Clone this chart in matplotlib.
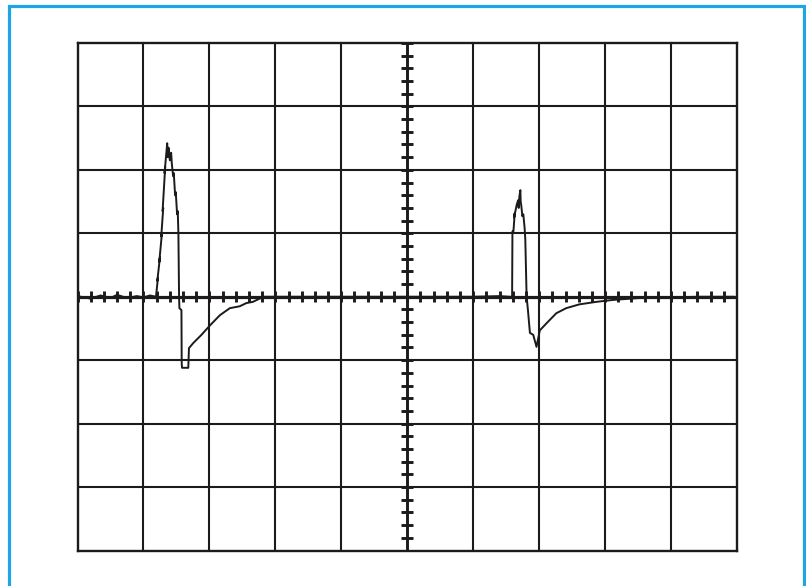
import numpy as np
import matplotlib
matplotlib.use('Agg')
import matplotlib.pyplot as plt
from matplotlib.patches import Rectangle

# screen divisions
n_cols = 10
n_rows = 8

# trace, in divisions (x: 0..10, y: -4..4)
trace_x = [0.05, 0.2, 0.35, 0.5, 0.6, 0.75, 0.9, 1.0, 1.1, 1.19,
           1.22, 1.21, 1.25, 1.24, 1.28, 1.27, 1.30, 1.29, 1.31, 1.33,
           1.32, 1.35, 1.36, 1.37, 1.38, 1.40, 1.42, 1.43, 1.45, 1.46,
           1.48, 1.49, 1.51, 1.52, 1.53, 1.54, 1.545, 1.576, 1.58, 1.585,
           1.68, 1.69, 1.755, 1.88, 2.01, 2.16, 2.31, 2.46, 2.56, 2.66,
           2.82, 3.2, 4.0, 5.0, 6.0, 6.4, 6.55, 6.59, 6.595, 6.61,
           6.63, 6.62, 6.66, 6.68, 6.69, 6.70, 6.715, 6.72, 6.73, 6.745,
           6.76, 6.78, 6.79, 6.81, 6.83, 6.86, 6.91, 6.96, 7.01, 7.11,
           7.26, 7.41, 7.61, 7.87, 8.12, 8.52, 9.43, 9.95]
trace_y = [0.0, -0.03, 0.02, -0.02, 0.03, -0.02, 0.01, -0.01, 0.02, 0.0,
           0.30, 0.25, 0.62, 0.55, 1.00, 0.95, 1.40, 1.35, 1.70, 2.05,
           1.95, 2.30, 2.42, 2.20, 2.35, 2.15, 2.27, 2.10, 1.90, 1.95,
           1.60, 1.65, 1.30, 1.35, 1.00, 0.0, -0.18, -0.21, -1.05, -1.12,
           -1.12, -0.81, -0.73, -0.60, -0.45, -0.29, -0.18, -0.15, -0.10, -0.08,
           0.0, 0.0, 0.0, 0.0, 0.0, 0.01, 0.0, 0.0, 1.03, 1.03,
           1.32, 1.25, 1.45, 1.52, 1.40, 1.58, 1.68, 1.50, 1.43, 1.27,
           1.30, 1.08, 0.90, 0.0, -0.21, -0.57, -0.60, -0.79, -0.53, -0.42,
           -0.26, -0.18, -0.12, -0.08, -0.05, -0.02, 0.0, 0.0]

ink = '#1c1a1b'

fig = plt.figure(figsize=(8.06, 5.86), dpi=100)
fig.patch.set_facecolor('white')

# blue frame round the picture
fig.patches.append(Rectangle((9 / 806, -0.05), 795 / 806, 1 - 6.5 / 586 + 0.05,
                             transform=fig.transFigure, fill=False,
                             edgecolor='#1ea5e3', linewidth=2.3))

ax = fig.add_axes([77.5 / 806, 1 - 550.5 / 586, 659.5 / 806, 507.5 / 586])
ax.set_xlim(0, n_cols)
ax.set_ylim(-n_rows / 2, n_rows / 2)
ax.set_xticks([])
ax.set_yticks([])
for s in ax.spines.values():
    s.set_color(ink)
    s.set_linewidth(1.7)

# graticule
for i in range(1, n_cols):
    ax.axvline(i, color=ink, lw=1.5 if i != n_cols // 2 else 2.1)
for j in range(1, n_rows):
    y = j - n_rows / 2
    ax.axhline(y, color=ink, lw=1.5 if y != 0 else 2.3)

# small ticks on the centre lines
minor_x = np.arange(0, n_cols + 0.01, 0.2)
minor_y = np.arange(-n_rows / 2, n_rows / 2 + 0.01, 0.2)
ax.vlines(minor_x, -0.09, 0.09, color=ink, lw=2.1)
ax.hlines(minor_y, n_cols / 2 - 0.09, n_cols / 2 + 0.09, color=ink, lw=2.1)

ax.plot(trace_x, trace_y, color=ink, lw=1.4)

fig.savefig('out.png', dpi=100)
